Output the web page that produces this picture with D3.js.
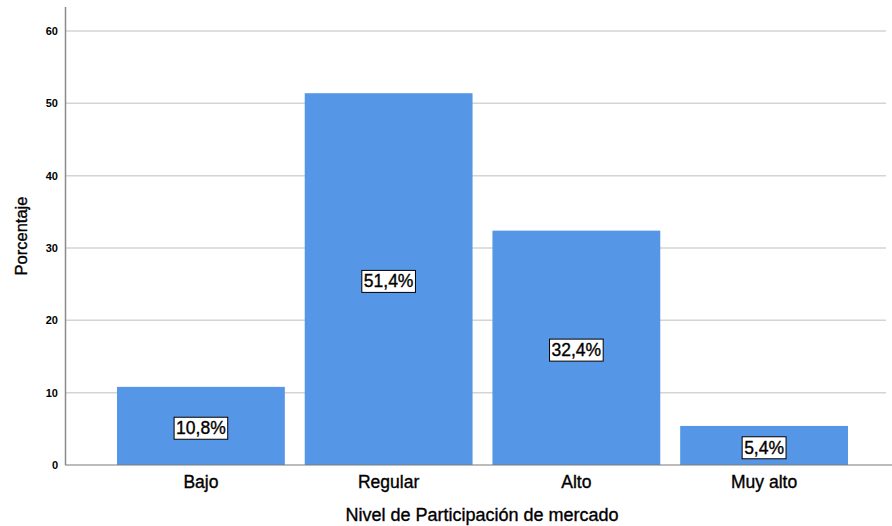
<!DOCTYPE html>
<html><head><meta charset="utf-8">
<script src="https://cdn.jsdelivr.net/npm/d3@7"></script>
<style>body{margin:0;background:#fff}svg{display:block}
.t{stroke:#000;stroke-width:0.35px}</style>
</head><body>
<svg id="c" width="892" height="526"></svg>
<script>
const categories = ["Bajo", "Regular", "Alto", "Muy alto"];
const values = [10.8, 51.4, 32.4, 5.4];
const labels = ["10,8%", "51,4%", "32,4%", "5,4%"];
const yTicks = [0, 10, 20, 30, 40, 50, 60];

const svg = d3.select("#c");
const font = "Arial, 'Liberation Sans', sans-serif";
const x = d3.scaleBand().domain(categories).range([65, 900]).paddingInner(0.106).paddingOuter(0.277);
const y = d3.scaleLinear().domain([0, 60]).range([465, 31]);

// gridlines
svg.append("g").selectAll("line").data(yTicks.filter(d => d > 0)).join("line")
  .attr("x1", 65).attr("x2", 886).attr("y1", d => y(d)).attr("y2", d => y(d))
  .attr("stroke", "#d4d4d4").attr("stroke-width", 1.5);

// bars
svg.append("g").selectAll("rect").data(values).join("rect")
  .attr("x", (d, i) => x(categories[i])).attr("width", x.bandwidth())
  .attr("y", d => y(d)).attr("height", d => y(0) - y(d))
  .attr("fill", "#5596e6");

// baseline
svg.append("line").attr("x1", 65).attr("x2", 892).attr("y1", y(0)).attr("y2", y(0))
  .attr("stroke", "#7a7a7a").attr("stroke-width", 1.2);
// y axis line
svg.append("line").attr("x1", 65.5).attr("x2", 65.5).attr("y1", 7).attr("y2", y(0))
  .attr("stroke", "#8a8a8a").attr("stroke-width", 1.5);

// y tick labels
svg.append("g").selectAll("text").data(yTicks).join("text")
  .attr("x", 58).attr("y", d => y(d)).attr("dy", "0.35em")
  .attr("text-anchor", "end").attr("font-family", font)
  .attr("font-size", 11).attr("font-weight", "bold").text(d => d);

// x labels
svg.append("g").selectAll("text").data(categories).join("text")
  .attr("class", "t")
  .attr("x", d => x(d) + x.bandwidth() / 2).attr("y", 488)
  .attr("text-anchor", "middle").attr("font-family", font)
  .attr("font-size", 17.5).text(d => d);

// value labels
const lg = svg.append("g");
values.forEach((v, i) => {
  const cx = x(categories[i]) + x.bandwidth() / 2;
  const cy = (y(v) + y(0)) / 2 + 2;
  const t = lg.append("text").attr("class", "t").attr("x", cx).attr("y", cy).attr("dy", "0.36em")
    .attr("text-anchor", "middle").attr("font-family", font).attr("font-size", 17.5)
    .text(labels[i]);
  const bb = t.node().getBBox();
  lg.insert("rect", "text").attr("x", bb.x - 2).attr("y", bb.y - 1)
    .attr("width", bb.width + 4).attr("height", bb.height + 2)
    .attr("fill", "#fff").attr("stroke", "#000").attr("stroke-width", 1);
});

// axis titles
svg.append("text").attr("class", "t").attr("x", 482).attr("y", 521).attr("text-anchor", "middle")
  .attr("font-family", font).attr("font-size", 18).text("Nivel de Participación de mercado");
svg.append("text").attr("class", "t").attr("transform", "translate(27,236) rotate(-90)").attr("text-anchor", "middle")
  .attr("font-family", font).attr("font-size", 16.5).text("Porcentaje");
</script>
</body></html>
